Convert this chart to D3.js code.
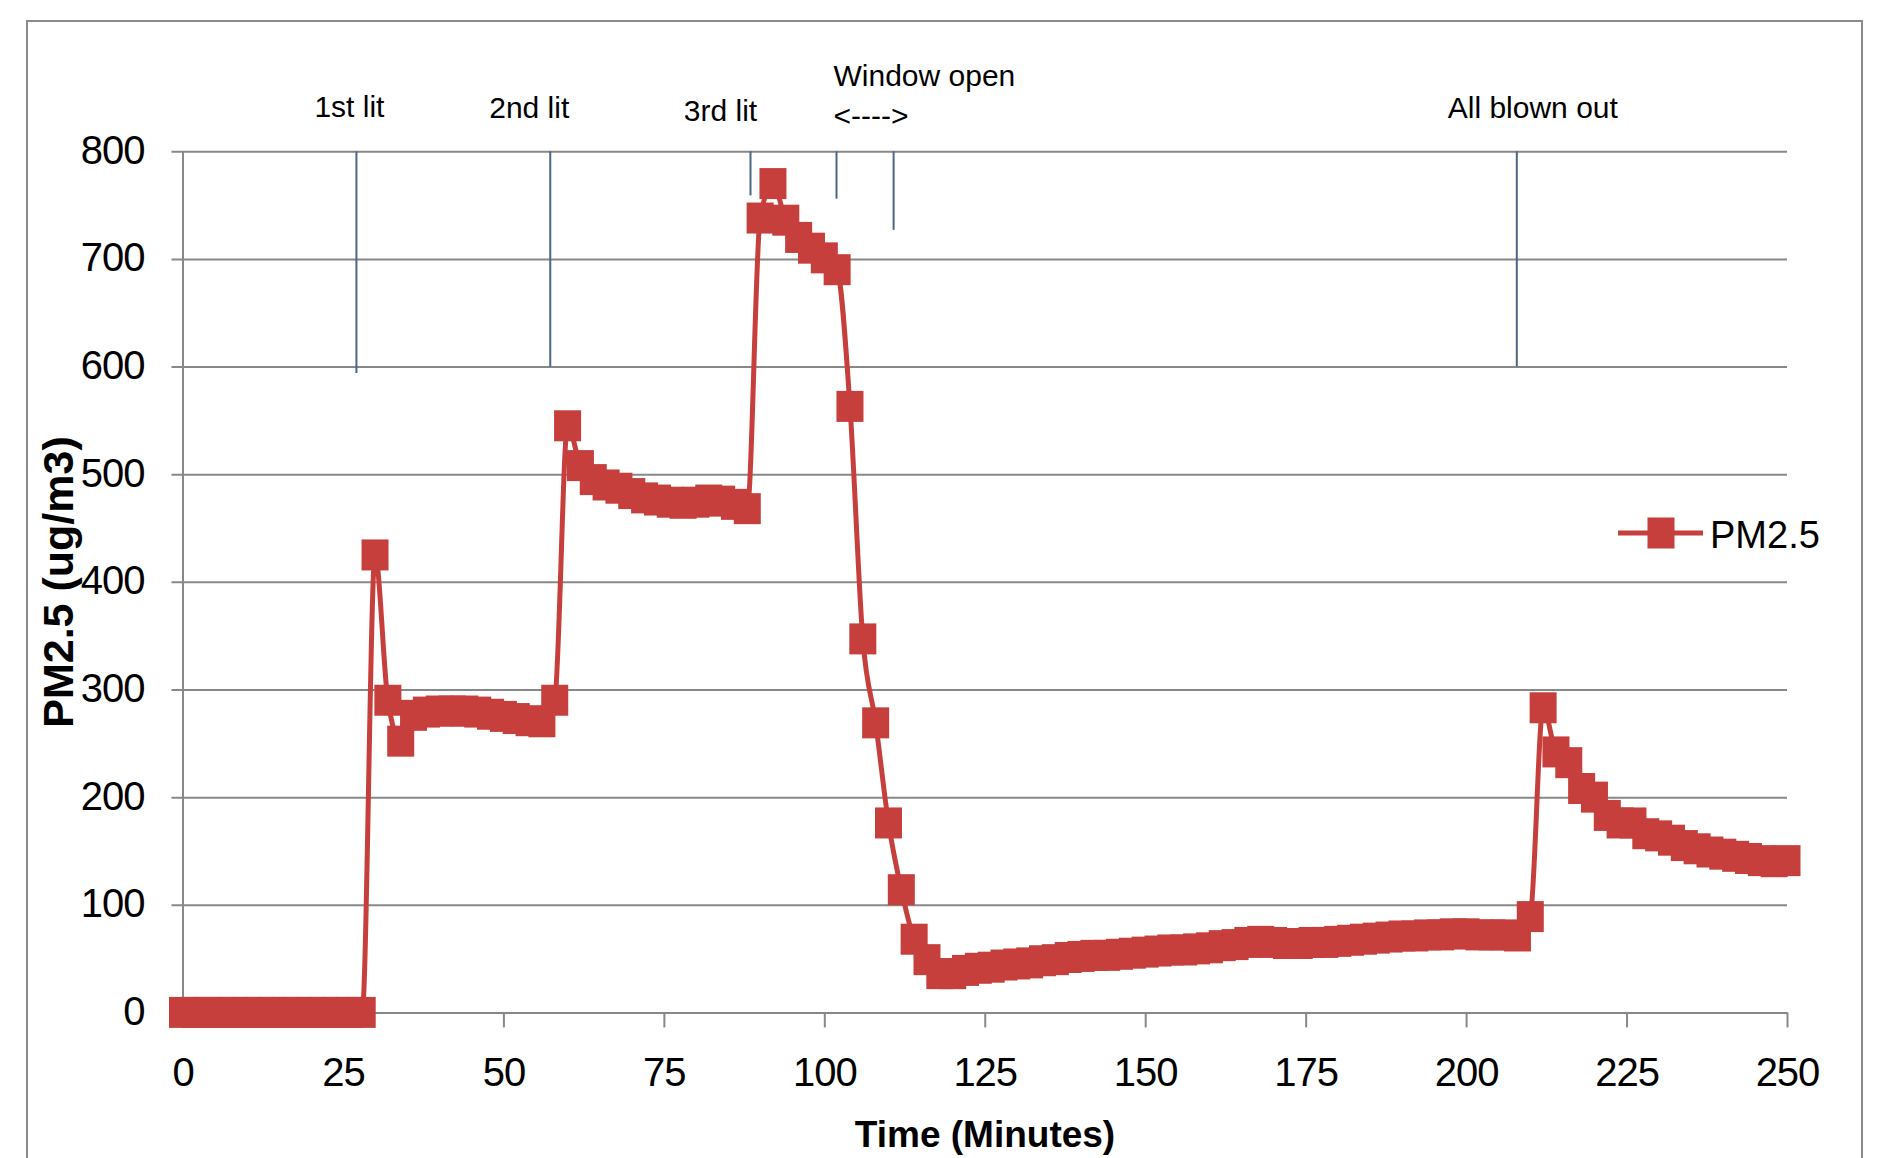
<!DOCTYPE html>
<html>
<head>
<meta charset="utf-8">
<script src="https://cdn.jsdelivr.net/npm/d3@7"></script>
<style>
  html, body { margin: 0; padding: 0; background: #ffffff; }
  svg { display: block; }
  text { font-family: "Liberation Sans", Arial, sans-serif; fill: #000; }
</style>
</head>
<body>
<script>
// Time since start of the measurement (minutes)
const times = [
  0, 2, 4, 6, 8, 10, 12, 14, 16, 18, 20, 22, 24, 26, 28,
  30, 32, 34, 36, 38, 40, 42, 44, 46, 48, 50, 52, 54, 56, 58,
  60, 62, 64, 66, 68, 70, 72, 74, 76, 78, 80, 82, 84, 86, 88,
  90, 92, 94, 96, 98, 100, 102, 104, 106, 108, 110, 112, 114, 116, 118,
  120, 122, 124, 126, 128, 130, 132, 134, 136, 138, 140, 142, 144, 146, 148,
  150, 152, 154, 156, 158, 160, 162, 164, 166, 168, 170, 172, 174, 176, 178,
  180, 182, 184, 186, 188, 190, 192, 194, 196, 198, 200, 202, 204, 206, 208,
  210, 212, 214, 216, 218, 220, 222, 224, 226, 228, 230, 232, 234, 236, 238,
  240, 242, 244, 246, 248, 250
];

// PM2.5 concentration (ug/m3)
const pm25 = [
  0, 0, 0, 0, 0, 0, 0, 0, 0, 0, 0, 0, 0, 0, 0,
  425, 290, 252, 276, 279, 280, 280, 280, 279, 277, 275, 273, 271, 270, 290,
  545, 508, 495, 490, 487, 482, 478, 476, 474, 473, 474, 476, 475, 472, 468,
  738, 770, 736, 720, 710, 701, 690, 563, 347, 269, 176, 114, 68, 49, 36,
  36, 39, 41, 42, 44, 45, 46, 48, 49, 51, 52, 53, 53, 54, 55,
  56, 57, 58, 58, 59, 60, 62, 63, 65, 66, 65, 64, 64, 65, 65,
  66, 67, 68, 69, 70, 71, 71, 72, 72, 73, 73, 72, 72, 72, 71,
  89, 283, 242, 232, 208, 200, 183, 176, 176, 166, 164, 160, 155, 152, 149,
  147, 145, 143, 141, 140, 141
];

const seriesName = "PM2.5";

// Axis ticks
const xTicks = [0, 25, 50, 75, 100, 125, 150, 175, 200, 225, 250];
const yTicks = [0, 100, 200, 300, 400, 500, 600, 700, 800];

// Event markers: time of each event line and the value where the line stops
const eventTimes = [27.1, 57.3, 88.5, 101.9, 110.8, 207.9];
const eventLineEnds = [594, 600, 759, 756, 727, 600];
const eventNames = ["1st lit", "2nd lit", "3rd lit", "Window open", "<---->", "All blown out"];

const xTitle = "Time (Minutes)";
const yTitle = "PM2.5 (ug/m3)";

// ---- layout ----
const W = 1883, H = 1158;
const plot = { left: 182.5, right: 1787, top: 151.3, bottom: 1012.4 };
const red = "#c63f3c";
const gridColor = "#888888";

const svg = d3.select("body").append("svg")
  .attr("width", W).attr("height", H)
  .attr("viewBox", `0 0 ${W} ${H}`);

svg.append("rect").attr("width", W).attr("height", H).attr("fill", "#fff");

// chart frame
svg.append("rect")
  .attr("x", 27).attr("y", 21)
  .attr("width", 1835).attr("height", 1200)
  .attr("fill", "none").attr("stroke", "#8a8a8a").attr("stroke-width", 2);

const x = d3.scaleLinear().domain([0, 250]).range([plot.left, plot.right]);
const y = d3.scaleLinear().domain([0, 800]).range([plot.bottom, plot.top]);

// y axis with horizontal gridlines
const yAxis = d3.axisLeft(y)
  .tickValues(yTicks)
  .tickSizeInner(-(plot.right - plot.left))
  .tickSizeOuter(0)
  .tickPadding(38)
  .tickFormat(d3.format("d"));

const gy = svg.append("g")
  .attr("transform", `translate(${plot.left},0)`)
  .call(yAxis);
gy.select(".domain").attr("stroke", gridColor).attr("stroke-width", 2);
gy.selectAll(".tick line")
  .attr("x1", -11)
  .attr("stroke", gridColor).attr("stroke-width", 2);
gy.selectAll(".tick text")
  .attr("font-size", 40).attr("letter-spacing", -1)
  .attr("fill", "#000").attr("dy", "0.30em");

// x axis
const xAxis = d3.axisBottom(x)
  .tickValues(xTicks)
  .tickSizeInner(15)
  .tickSizeOuter(0)
  .tickFormat(d3.format("d"));

const gx = svg.append("g")
  .attr("transform", `translate(0,${plot.bottom})`)
  .call(xAxis);
gx.select(".domain").attr("stroke", gridColor).attr("stroke-width", 2);
gx.selectAll(".tick line").attr("stroke", gridColor).attr("stroke-width", 2);
gx.selectAll(".tick text")
  .attr("font-size", 40).attr("letter-spacing", -1)
  .attr("fill", "#000").attr("y", 60).attr("dy", "0.35em");

// axis titles
svg.append("text")
  .attr("x", 985).attr("y", 1147)
  .attr("text-anchor", "middle")
  .attr("font-size", 37).attr("font-weight", "bold")
  .text(xTitle);

svg.append("text")
  .attr("transform", "translate(73,582) rotate(-90)")
  .attr("text-anchor", "middle")
  .attr("font-size", 43).attr("font-weight", "bold")
  .text(yTitle);

// event lines
const evColor = "#4a6784";
svg.append("g").selectAll("line")
  .data(eventTimes)
  .join("line")
  .attr("x1", d => x(d)).attr("x2", d => x(d))
  .attr("y1", y(800))
  .attr("y2", (d, i) => y(eventLineEnds[i]))
  .attr("stroke", evColor).attr("stroke-width", 2);

// event labels, placed relative to the event line they describe
const labelPlacement = [
  { line: 0, dx: -7,  y: 117, anchor: "middle" },
  { line: 1, dx: -21, y: 118, anchor: "middle" },
  { line: 2, dx: -30, y: 121, anchor: "middle" },
  { line: 3, dx: -3,  y: 86,  anchor: "start" },
  { line: 3, dx: -3,  y: 126, anchor: "start" },
  { line: 5, dx: 16,  y: 118, anchor: "middle" }
];
svg.append("g").selectAll("text")
  .data(eventNames)
  .join("text")
  .attr("x", (d, i) => x(eventTimes[labelPlacement[i].line]) + labelPlacement[i].dx)
  .attr("y", (d, i) => labelPlacement[i].y)
  .attr("text-anchor", (d, i) => labelPlacement[i].anchor)
  .attr("font-size", 30)
  .attr("fill", "#222")
  .text(d => d);

// data series
const pts = times.map((t, i) => ({ t, v: pm25[i] }));

const line = d3.line()
  .x(d => x(d.t))
  .y(d => y(d.v))
  .curve(d3.curveMonotoneX);

svg.append("path")
  .datum(pts)
  .attr("d", line)
  .attr("fill", "none")
  .attr("stroke", red)
  .attr("stroke-width", 5)
  .attr("stroke-linejoin", "round");

const mw = 27, mh = 31;
svg.append("g").selectAll("rect")
  .data(pts)
  .join("rect")
  .attr("x", d => x(d.t) - mw / 2)
  .attr("y", d => y(d.v) - mh / 2)
  .attr("width", mw).attr("height", mh)
  .attr("fill", red);

// legend
const lg = svg.append("g").attr("transform", "translate(1618,533)");
lg.append("line")
  .attr("x1", 0).attr("x2", 85).attr("y1", 0).attr("y2", 0)
  .attr("stroke", red).attr("stroke-width", 5);
lg.append("rect")
  .attr("x", 43 - mw / 2).attr("y", -mh / 2)
  .attr("width", mw).attr("height", mh)
  .attr("fill", red);
lg.append("text")
  .attr("x", 92).attr("y", 15)
  .attr("font-size", 38)
  .text(seriesName);
</script>
</body>
</html>
